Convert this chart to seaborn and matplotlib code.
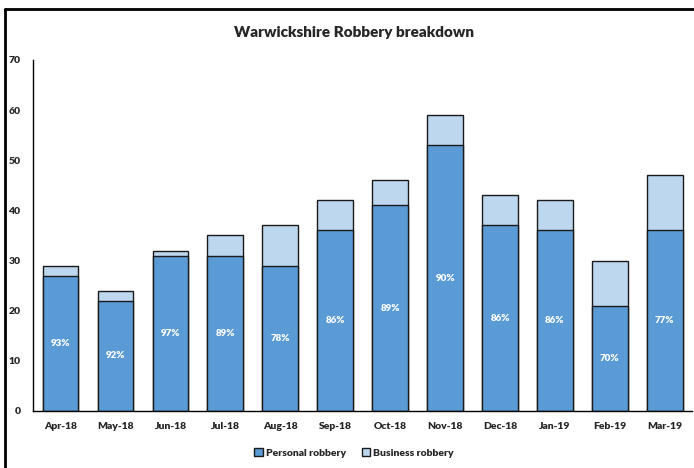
import matplotlib
matplotlib.use("Agg")
from matplotlib import pyplot as plt
from matplotlib.lines import Line2D
from matplotlib.patches import Patch
import seaborn as sns
import pandas as pd

months = ['Apr-18', 'May-18', 'Jun-18', 'Jul-18', 'Aug-18', 'Sep-18',
          'Oct-18', 'Nov-18', 'Dec-18', 'Jan-19', 'Feb-19', 'Mar-19']
personal = [27, 22, 31, 31, 29, 36, 41, 53, 37, 36, 21, 36]
business = [2, 2, 1, 4, 8, 6, 5, 6, 6, 6, 9, 11]

dark = '#5B9BD5'
light = '#BDD7EE'

df = pd.DataFrame({'month': months, 'personal': personal, 'business': business})
df['total'] = df['personal'] + df['business']

sns.set_style('white')
plt.rcParams['font.family'] = ['Lato', 'DejaVu Sans']

fig = plt.figure(figsize=(6.94, 4.68), dpi=100)
ax = fig.add_axes([0.0476, 0.1218, 0.95, 0.75])

# total first (business shows on top), then personal over it
sns.barplot(data=df, x='month', y='total', color=light, width=0.65,
            edgecolor='#1a1a1a', linewidth=1, saturation=1, ax=ax)
sns.barplot(data=df, x='month', y='personal', color=dark, width=0.65,
            edgecolor='#1a1a1a', linewidth=1, saturation=1, ax=ax)

for i, row in df.iterrows():
    pct = round(100 * row['personal'] / row['total'])
    ax.text(i, row['personal'] / 2, f'{pct}%', ha='center', va='center',
            color='white', fontsize=7, fontweight='heavy')

ax.set_ylim(0, 70)
ax.set_xlim(-0.5, 11.5)
ax.set_yticks(range(0, 71, 10))
ax.set_xlabel('')
ax.set_ylabel('')
ax.tick_params(axis='both', length=0, labelsize=7.5)
ax.tick_params(axis='y', pad=9)
ax.tick_params(axis='x', pad=8)
for lab in ax.get_xticklabels() + ax.get_yticklabels():
    lab.set_fontweight('heavy')
sns.despine(ax=ax, top=True, right=True)
ax.spines['left'].set_color('black')
ax.spines['bottom'].set_color('black')
ax.spines['left'].set_linewidth(1)
ax.spines['bottom'].set_linewidth(1)

fig.text(0.51, 0.93, 'Warwickshire Robbery breakdown', ha='center', va='center',
         fontsize=11, fontweight='heavy')

handles = [Patch(facecolor=dark, edgecolor='#1a1a1a', label='Personal robbery'),
           Patch(facecolor=light, edgecolor='#1a1a1a', label='Business robbery')]
leg = fig.legend(handles=handles, loc='center', bbox_to_anchor=(0.51, 0.032), ncol=2,
                 frameon=False, fontsize=7.5, handlelength=0.8, handleheight=0.8,
                 handletextpad=0.3, columnspacing=1.5)
for t in leg.get_texts():
    t.set_fontweight('heavy')

# outer frame lines (left and top)
fig.add_artist(Line2D([0.0065, 0.0065], [0, 0.98], color='black', lw=2,
                      transform=fig.transFigure))
fig.add_artist(Line2D([0.0065, 1], [0.98, 0.98], color='black', lw=2,
                      transform=fig.transFigure))

fig.savefig('out.png', dpi=100)
